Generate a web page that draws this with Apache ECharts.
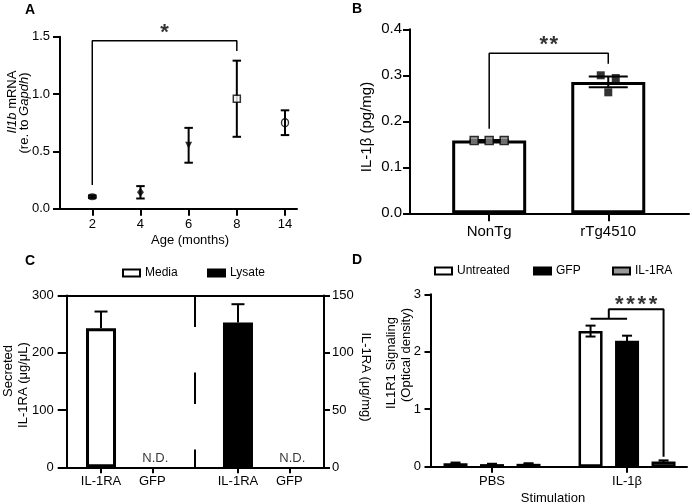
<!DOCTYPE html>
<html><head><meta charset="utf-8">
<script src="https://cdn.jsdelivr.net/npm/echarts@6/dist/echarts.min.js"></script>
<style>html,body{margin:0;padding:0;background:#fff}#c{width:692px;height:504px}</style>
</head><body><div id="c"></div>
<script>
// ---------------- data ----------------
// Panel A
const ageLabels = ['2', '4', '6', '8', '14'];
const il1bMean = [0.105, 0.143, 0.553, 0.959, 0.750];
const il1bSem = [0.010, 0.054, 0.152, 0.332, 0.108];
const aBracket = [[0, 0.207], [0, 1.465], [3, 1.465], [3, 1.376]];
// Panel B
const bGroups = ['NonTg', 'rTg4510'];
const bMean = [0.158, 0.2857];
const bSem = [0.0015, 0.0115];
const bNonTgPoints = [0.158, 0.158, 0.158];
const bTgPoints = [0.300, 0.263, 0.294];
const bBracket = [[0, 0.184], [0, 0.348], [1, 0.348], [1, 0.325]];
// Panel C
const cLabels = ['IL-1RA', 'GFP', 'IL-1RA', 'GFP'];
const cMedia = [243, null];
const cMediaSem = [29, null];
const cLysate = [126.4, null];
const cLysateSem = [16, null];
// Panel D
const dGroups = ['PBS', 'IL-1β'];
const dUntreated = [0.06, 2.36];
const dUntreatedSem = [0.012, 0.095];
const dGFP = [0.045, 2.19];
const dGFPSem = [0.006, 0.09];
const dIL1RA = [0.05, 0.09];
const dIL1RASem = [0.01, 0.02];
const dBracketLow = 2.575, dBracketTop = 2.739, dBracketEnd = 0.174;

// ---------------- layout / style constants ----------------
const FONT = '"Liberation Sans", Arial, Helvetica, sans-serif';
const BLACK = '#000';
const cShift = 2.67;          // horizontal offset of the Lysate block (axis units)
const cDivider = 1.832;       // position of dashed divider (axis units)
const bJitter = [0.126, 0.063];
const dBarW = 24, dGapPx = 12.5, dUnitPx = 135;
const dStep = (dBarW + dGapPx) / dUnitPx;

function axisBase(extra) {
  return Object.assign({
    axisLine: {show: true, onZero: false, lineStyle: {color: BLACK, width: 2}},
    axisTick: {show: true, length: 7, lineStyle: {color: BLACK, width: 2}},
    axisLabel: {color: BLACK, fontFamily: FONT, fontSize: 13},
    splitLine: {show: false}
  }, extra);
}
function errSeries(xi, yi, data, opt) {
  return {
    type: 'custom', xAxisIndex: xi, yAxisIndex: yi, z: opt.z || 3, silent: true, clip: false,
    data: data.filter(d => d[1] != null && !isNaN(d[1])),
    renderItem(params, api) {
      const x = api.value(0), lo = api.value(1), hi = api.value(2);
      const a = api.coord([x, lo]), b = api.coord([x, hi]);
      const cx = a[0] + (opt.offset || 0);
      const hw = opt.cap / 2;
      const st = {stroke: BLACK, lineWidth: opt.lw || 2};
      const ch = [
        {type: 'line', shape: {x1: cx, y1: a[1], x2: cx, y2: b[1]}, style: st},
        {type: 'line', shape: {x1: cx - hw, y1: b[1], x2: cx + hw, y2: b[1]}, style: st}
      ];
      if (opt.lower !== false) ch.push({type: 'line', shape: {x1: cx - hw, y1: a[1], x2: cx + hw, y2: a[1]}, style: st});
      return {type: 'group', children: ch};
    }
  };
}
function lineSeries(xi, yi, pts, w, type) {
  return {type: 'line', xAxisIndex: xi, yAxisIndex: yi, data: pts, symbol: 'none', silent: true, z: 4, clip: false,
    lineStyle: {color: BLACK, width: w, type: type || 'solid'}};
}
function starSeries(xi, yi, pt, n, cell) {
  return {type: 'scatter', xAxisIndex: xi, yAxisIndex: yi, data: [pt], symbolSize: 1, silent: true, z: 6, clip: false,
    itemStyle: {color: 'rgba(0,0,0,0)'},
    label: {show: true, position: 'inside', formatter: '{s|*}'.repeat(n),
      rich: {s: {width: cell, align: 'center', fontSize: 22, fontWeight: 'bold', fontFamily: FONT, color: BLACK}}}};
}
function textSeries(xi, yi, pts, text, fs, label) {
  return {type: 'scatter', xAxisIndex: xi, yAxisIndex: yi, data: pts, symbolSize: 1, silent: true, z: 6, clip: false,
    itemStyle: {color: 'rgba(0,0,0,0)'},
    label: Object.assign({show: true, position: 'inside', formatter: text, color: BLACK, fontSize: fs, fontFamily: FONT}, label || {})};
}
function txt(x, y, text, fs, opt) {
  opt = opt || {};
  return {type: 'text', x: x, y: y, rotation: opt.rot || 0, silent: true,
    style: {text: text, fill: BLACK, fontSize: fs, fontFamily: FONT, fontWeight: opt.bold ? 'bold' : 'normal',
      align: 'center', verticalAlign: 'middle',
      rich: {i: {fontStyle: 'italic', fontSize: fs, fontFamily: FONT, fill: BLACK}}}};
}
function nearestLabel(positions, labels) {
  return v => { let k = 0; positions.forEach((p, i) => { if (Math.abs(p - v) < Math.abs(positions[k] - v)) k = i; }); return labels[k]; };
}

// marker styles for panel A
const aMarkers = [
  {symbol: 'circle', symbolSize: [9, 7], itemStyle: {color: BLACK}},
  {symbol: 'diamond', symbolSize: [7, 9], itemStyle: {color: BLACK}},
  {symbol: 'triangle', symbolSize: [7, 7], symbolRotate: 180, itemStyle: {color: BLACK}},
  {symbol: 'rect', symbolSize: [7, 7], itemStyle: {color: '#fff', borderColor: BLACK, borderWidth: 1.5}},
  {symbol: 'circle', symbolSize: [7, 8], itemStyle: {color: 'rgba(0,0,0,0)', borderColor: BLACK, borderWidth: 1.5}}
];

const aIdx = ageLabels.map((_, i) => i);
const cPos = [0, 1, cShift, cShift + 1];
const dPos = [0, 1];

const option = {
  animation: false,
  backgroundColor: '#fff',
  grid: [
    {left: 60, top: 36.7, width: 237, height: 172},
    {left: 410, top: 29.3, width: 279, height: 184},
    {left: 66.7, top: 295.5, width: 257.3, height: 171.8},
    {left: 430.5, top: 294.3, width: 256.5, height: 172.4}
  ],
  xAxis: [
    axisBase({type: 'value', gridIndex: 0, min: -0.670, max: 4.249,
      axisTick: {show: true, length: 7, customValues: aIdx, lineStyle: {color: BLACK, width: 2}},
      axisLabel: {color: BLACK, fontFamily: FONT, fontSize: 13, margin: 9, customValues: aIdx, formatter: nearestLabel(aIdx, ageLabels)}}),
    axisBase({type: 'value', gridIndex: 1, min: -0.665, max: 1.678,
      axisTick: {show: true, length: 8, customValues: [0, 1], lineStyle: {color: BLACK, width: 2}},
      axisLabel: {color: BLACK, fontFamily: FONT, fontSize: 15, margin: 11, customValues: [0, 1], formatter: nearestLabel([0, 1], bGroups)}}),
    axisBase({type: 'value', gridIndex: 2, min: -0.669, max: 4.347,
      axisTick: {show: true, length: 6, customValues: cPos, lineStyle: {color: BLACK, width: 2}},
      axisLabel: {color: BLACK, fontFamily: FONT, fontSize: 13, margin: 8, customValues: cPos, formatter: nearestLabel(cPos, cLabels)}}),
    axisBase({type: 'value', gridIndex: 2, position: 'top', min: -0.669, max: 4.347,
      axisTick: {show: false}, axisLabel: {show: false}}),
    axisBase({type: 'value', gridIndex: 3, min: -0.4556, max: 1.444,
      axisTick: {show: true, length: 6, customValues: dPos, lineStyle: {color: BLACK, width: 2}},
      axisLabel: {color: BLACK, fontFamily: FONT, fontSize: 13, margin: 8.5, customValues: dPos, formatter: nearestLabel(dPos, dGroups)}})
  ],
  yAxis: [
    axisBase({type: 'value', gridIndex: 0, min: 0, max: 1.5, interval: 0.5,
      axisLabel: {color: BLACK, fontFamily: FONT, fontSize: 13, margin: 10, formatter: v => v.toFixed(1)}}),
    axisBase({type: 'value', gridIndex: 1, min: 0, max: 0.4, interval: 0.1,
      axisLabel: {color: BLACK, fontFamily: FONT, fontSize: 15, margin: 8, formatter: v => v.toFixed(1)}}),
    axisBase({type: 'value', gridIndex: 2, min: 0, max: 300, interval: 100,
      axisTick: {show: true, length: 9, lineStyle: {color: BLACK, width: 2}},
      axisLabel: {color: BLACK, fontFamily: FONT, fontSize: 13, margin: 13}}),
    axisBase({type: 'value', gridIndex: 2, position: 'right', min: 0, max: 150, interval: 50,
      axisTick: {show: true, length: 6, lineStyle: {color: BLACK, width: 2}},
      axisLabel: {color: BLACK, fontFamily: FONT, fontSize: 13, margin: 8}}),
    axisBase({type: 'value', gridIndex: 3, min: 0, max: 3, interval: 1,
      axisTick: {show: true, length: 6, lineStyle: {color: BLACK, width: 2}},
      axisLabel: {color: BLACK, fontFamily: FONT, fontSize: 13, margin: 9.5}})
  ],
  legend: [
    {data: [{name: 'Media', itemStyle: {borderWidth: 2}}], left: 122, top: 267},
    {data: [{name: 'Lysate', itemStyle: {borderWidth: 2}}], left: 207, top: 267},
    {data: [{name: 'Untreated', itemStyle: {borderWidth: 2}}], left: 434, top: 265},
    {data: [{name: 'GFP', itemStyle: {borderWidth: 2}}], left: 533, top: 265},
    {data: [{name: 'IL-1RA', itemStyle: {borderWidth: 2}}], left: 612, top: 265}
  ].map(l => Object.assign({padding: 0, itemGap: 0, itemWidth: 17, itemHeight: 7, itemTextGap: 11, icon: 'rect',
    selectedMode: false, textStyle: {color: BLACK, fontFamily: FONT, fontSize: 12}}, l)),
  series: [
    // ---- A ----
    lineSeries(0, 0, aBracket, 1.5),
    errSeries(0, 0, il1bMean.map((m, i) => [i, m - il1bSem[i], m + il1bSem[i]]), {cap: 8.5, lw: 2}),
    {type: 'scatter', xAxisIndex: 0, yAxisIndex: 0, z: 5, silent: true,
      data: il1bMean.map((m, i) => Object.assign({value: [i, m]}, aMarkers[i]))},
    starSeries(0, 0, [1.5, 1.530], 1, 10),
    // ---- B ----
    {type: 'bar', name: 'B', xAxisIndex: 1, yAxisIndex: 1, barWidth: 74, z: 2, silent: true,
      itemStyle: {color: '#fff', borderColor: BLACK, borderWidth: 3},
      data: bMean.map((m, i) => [i, m])},
    errSeries(1, 1, bMean.map((m, i) => [i, m - bSem[i], m + bSem[i]]), {cap: 39, lw: 2}),
    {type: 'scatter', xAxisIndex: 1, yAxisIndex: 1, z: 5, silent: true, symbol: 'rect', symbolSize: 8,
      itemStyle: {color: '#8a8a8a', borderColor: BLACK, borderWidth: 1.5},
      data: bNonTgPoints.map((v, k) => [0 + (k - 1) * bJitter[0], v])},
    {type: 'scatter', xAxisIndex: 1, yAxisIndex: 1, z: 5, silent: true, symbol: 'rect', symbolSize: 8,
      itemStyle: {color: BLACK},
      data: bTgPoints.map((v, k) => [1 + (k - 1) * bJitter[1], v])},
    lineSeries(1, 1, bBracket, 1.5),
    starSeries(1, 1, [0.5, 0.3658], 2, 10),
    // ---- C ----
    {type: 'bar', name: 'Media', xAxisIndex: 2, yAxisIndex: 2, barWidth: 30, barGap: '-100%', z: 2,
      itemStyle: {color: '#fff', borderColor: BLACK, borderWidth: 3},
      data: cMedia.map((v, i) => [cPos[i], v])},
    {type: 'bar', name: 'Lysate', xAxisIndex: 2, yAxisIndex: 3, barWidth: 30, barGap: '-100%', z: 2,
      itemStyle: {color: BLACK, borderColor: BLACK, borderWidth: 3},
      data: cLysate.map((v, i) => [cPos[i + 2], v])},
    errSeries(2, 2, cMedia.map((v, i) => [cPos[i], v, v == null ? null : v + cMediaSem[i]]), {cap: 13, lw: 2, lower: false, z: 1}),
    errSeries(2, 3, cLysate.map((v, i) => [cPos[i + 2], v, v == null ? null : v + cLysateSem[i]]), {cap: 13, lw: 2, lower: false, z: 1}),
    textSeries(2, 2, cMedia.map((v, i) => v == null ? [cPos[i], 0] : null).filter(Boolean), 'N.D.', 13,
      {position: 'top', distance: 2, offset: [3, 0]}),
    textSeries(2, 3, cLysate.map((v, i) => v == null ? [cPos[i + 2], 0] : null).filter(Boolean), 'N.D.', 13,
      {position: 'top', distance: 2, offset: [3, 0]}),
    lineSeries(2, 2, [[cDivider, 300], [cDivider, 0]], 2, [31.5, 45.5]),
    // ---- D ----
    {type: 'bar', name: 'Untreated', xAxisIndex: 4, yAxisIndex: 4, barWidth: dBarW, barGap: (dGapPx / dBarW * 100) + '%', z: 2,
      itemStyle: {color: '#fff', borderColor: BLACK, borderWidth: 2.5},
      data: dUntreated.map((v, i) => [dPos[i], v])},
    {type: 'bar', name: 'GFP', xAxisIndex: 4, yAxisIndex: 4, barWidth: dBarW, barGap: (dGapPx / dBarW * 100) + '%', z: 2,
      itemStyle: {color: BLACK, borderColor: BLACK, borderWidth: 2.5},
      data: dGFP.map((v, i) => [dPos[i], v])},
    {type: 'bar', name: 'IL-1RA', xAxisIndex: 4, yAxisIndex: 4, barWidth: dBarW, barGap: (dGapPx / dBarW * 100) + '%', z: 2,
      itemStyle: {color: '#999', borderColor: BLACK, borderWidth: 2.5},
      data: dIL1RA.map((v, i) => [dPos[i], v])},
    errSeries(4, 4, dUntreated.map((v, i) => [dPos[i], v - dUntreatedSem[i], v + dUntreatedSem[i]]), {cap: 10, lw: 2, offset: -(dBarW + dGapPx)}),
    errSeries(4, 4, dGFP.map((v, i) => [dPos[i], v - dGFPSem[i], v + dGFPSem[i]]), {cap: 10, lw: 2, offset: 0}),
    errSeries(4, 4, dIL1RA.map((v, i) => [dPos[i], v - dIL1RASem[i], v + dIL1RASem[i]]), {cap: 10, lw: 2, offset: dBarW + dGapPx}),
    lineSeries(4, 4, [[1 - dStep, dBracketLow], [1, dBracketLow]], 2),
    lineSeries(4, 4, [[1 - dStep / 2, dBracketLow], [1 - dStep / 2, dBracketTop], [1 + dStep, dBracketTop], [1 + dStep, dBracketEnd]], 2),
    starSeries(4, 4, [1 + dStep / 4, 2.814], 4, 11.25)
  ],
  graphic: [
    txt(30, 10, 'A', 14, {bold: true}),
    txt(357, 9, 'B', 14, {bold: true}),
    txt(30, 261, 'C', 14, {bold: true}),
    txt(357, 260, 'D', 14, {bold: true}),
    txt(12.5, 102, '{i|Il1b} mRNA', 13, {rot: Math.PI / 2}),
    txt(24.5, 113, '(re. to {i|Gapdh})', 13, {rot: Math.PI / 2}),
    txt(190, 240, 'Age (months)', 13),
    txt(367, 127, 'IL-1β (pg/mg)', 15, {rot: Math.PI / 2}),
    txt(8, 371, 'Secreted', 13, {rot: Math.PI / 2}),
    txt(23, 385, 'IL-1RA (μg/μL)', 13, {rot: Math.PI / 2}),
    txt(366, 377, 'IL-1RA (μg/mg)', 13, {rot: -Math.PI / 2}),
    txt(391, 363, 'IL1R1 Signaling', 13, {rot: Math.PI / 2}),
    txt(406, 355, '(Optical density)', 13, {rot: Math.PI / 2}),
    txt(553, 498, 'Stimulation', 13)
  ]
};
const chart = echarts.init(document.getElementById('c'), null, {renderer: 'canvas'});
chart.setOption(option);
</script>
</body></html>
